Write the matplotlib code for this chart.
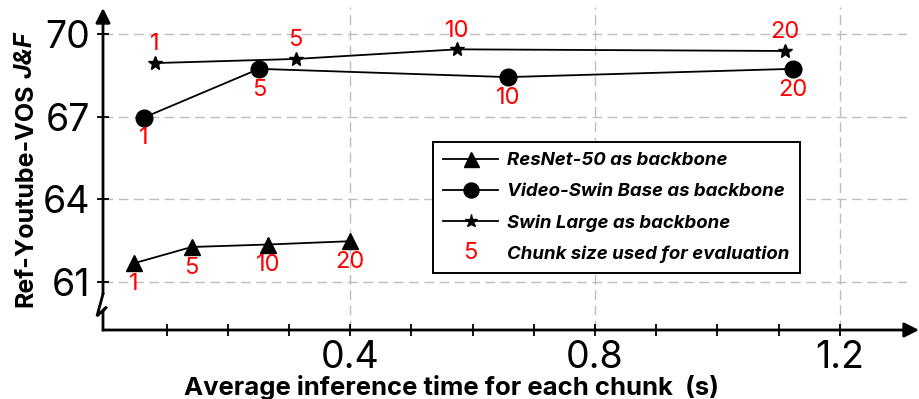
import matplotlib
matplotlib.use("Agg")
import matplotlib.pyplot as plt
import matplotlib.text as mtext
from matplotlib.legend_handler import HandlerBase

plt.rcParams['font.family'] = ['Inter', 'DejaVu Sans']

# Chunk sizes evaluated for every backbone
chunk_sizes = [1, 5, 10, 20]

# Average inference time per chunk (s) and Ref-Youtube-VOS J&F
resnet_time = [0.047, 0.141, 0.266, 0.400]
resnet_jf = [61.67, 62.26, 62.35, 62.47]

vswin_time = [0.063, 0.251, 0.658, 1.123]
vswin_jf = [66.97, 68.74, 68.44, 68.74]

swinl_time = [0.081, 0.311, 0.575, 1.110]
swinl_jf = [68.95, 69.10, 69.45, 69.39]

y_ticks = [61, 64, 67, 70]
x_major = [0.4, 0.8, 1.2]
x_minor = [0.1, 0.2, 0.3, 0.5, 0.6, 0.7, 0.9, 1.0, 1.1]

series_labels = ["ResNet-50 as backbone",
                 "Video-Swin Base as backbone",
                 "Swin Large as backbone"]
chunk_legend_label = "Chunk size used for evaluation"

W, H = 919, 399
fig = plt.figure(figsize=(W / 100, H / 100), dpi=100)
ax = fig.add_axes([103 / W, 1 - 330 / H, 804 / W, 323 / H])
ax.set_xlim(-0.004, 1.31)
ax.set_ylim(59.24, 70.99)

for s in ax.spines.values():
    s.set_visible(False)

# dashed grid at major ticks
ax.set_axisbelow(True)
ax.grid(True, which='major', color='#bdbdbd', lw=1.0, linestyle=(0, (7, 4)))

ax.set_xticks(x_major)
ax.set_xticklabels([f"{v:.1f}" for v in x_major])
ax.set_xticks(x_minor, minor=True)
ax.set_yticks(y_ticks)
ax.set_yticklabels([str(v) for v in y_ticks])
ax.tick_params(which='both', direction='inout', length=8, width=1.3, color='k')
ax.tick_params(axis='x', labelsize=27, pad=3.5)
ax.tick_params(axis='y', labelsize=27, pad=5)

# axis lines with arrow heads and a break mark on the y axis
arrow_kw = dict(arrowstyle='-|>', lw=2.0, color='k', mutation_scale=22,
                shrinkA=0, shrinkB=0)
ax.annotate('', xy=(1.015, 0), xytext=(0, 0), xycoords='axes fraction',
            arrowprops=arrow_kw, annotation_clip=False)
ax.annotate('', xy=(0, 0.997), xytext=(0, 0.1115), xycoords='axes fraction',
            arrowprops=arrow_kw, annotation_clip=False)
ax.plot([0, -0.0075, 0.0045, 0, 0], [0.1115, 0.043, 0.072, 0.058, 0],
        transform=ax.transAxes, color='k', lw=2.0, clip_on=False,
        solid_joinstyle='miter')

line_kw = dict(color='k', lw=1.3, zorder=3)
h1, = ax.plot(resnet_time, resnet_jf, marker='^', ms=12, label=series_labels[0], **line_kw)
h2, = ax.plot(vswin_time, vswin_jf, marker='o', ms=12, label=series_labels[1], **line_kw)
h3, = ax.plot(swinl_time, swinl_jf, marker='*', ms=10.5, label=series_labels[2], **line_kw)

# chunk-size annotations
lab_kw = dict(textcoords='offset points', ha='center', va='center',
              color='red', fontsize=17)
for xs, ys, dy in [(resnet_time, resnet_jf, -15),
                   (vswin_time, vswin_jf, -15),
                   (swinl_time, swinl_jf, 13.5)]:
    for c, x, y in zip(chunk_sizes, xs, ys):
        ax.annotate(str(c), (x, y), xytext=(0, dy), **lab_kw)


class ChunkHandle:
    pass


class ChunkHandler(HandlerBase):
    def create_artists(self, legend, orig_handle, xdescent, ydescent,
                       width, height, fontsize, trans):
        t = mtext.Text(width / 2 - xdescent, height / 2 - ydescent, "5",
                       color='red', fontsize=17, ha='center', va='center',
                       transform=trans)
        return [t]


leg = fig.legend([h1, h2, h3, ChunkHandle()],
                 series_labels + [chunk_legend_label],
                 handler_map={ChunkHandle: ChunkHandler()},
                 loc='upper left', bbox_to_anchor=(433 / W, 1 - 142 / H),
                 frameon=True, fancybox=False, edgecolor='k', framealpha=1,
                 prop=dict(weight='bold', style='italic', size=13.4),
                 handlelength=2.95, handletextpad=0.5, borderpad=0.55,
                 labelspacing=0.75, borderaxespad=0, markerscale=0.9)
leg.get_frame().set_linewidth(1.4)

# axis titles
fig.text(452 / W, 1 - 395 / H, "Average inference time for each chunk  (s)",
         ha='center', va='baseline', weight='bold', fontsize=18.5)

yl1 = fig.text(25.5 / W, 1 - 307 / H, "Ref-Youtube-VOS", rotation=90,
               ha='center', va='bottom', weight='bold', fontsize=18)
fig.canvas.draw()
bb = yl1.get_window_extent(fig.canvas.get_renderer())
fig.text(25.5 / W, (bb.y1 + 6) / H, "J&F", rotation=90, ha='center',
         va='bottom', weight='bold', style='italic', fontsize=18)

fig.savefig("out.png", dpi=100)
